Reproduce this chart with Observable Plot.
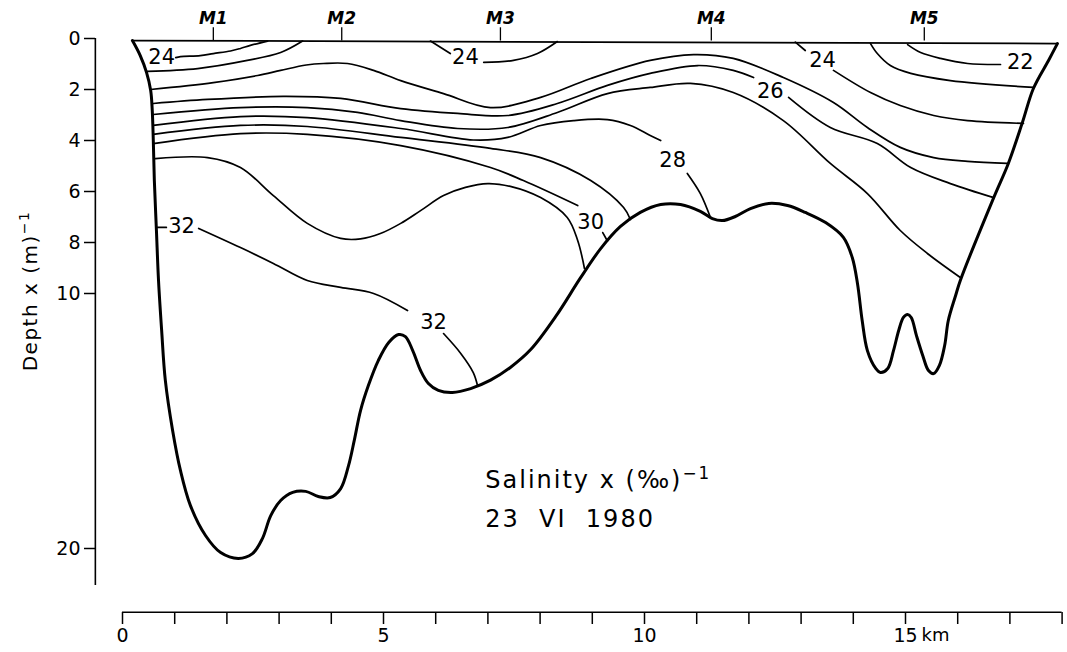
<!DOCTYPE html>
<html><head><meta charset="utf-8">
<script src="https://cdn.jsdelivr.net/npm/d3@7"></script>
<script src="https://cdn.jsdelivr.net/npm/@observablehq/plot@0.6"></script>
<style>
html,body{margin:0;padding:0;background:#fff;}
#chart{width:1067px;height:652px;}
</style></head>
<body><div id="chart"></div>
<script>
// ---- data: distance (km) and depth (m) ----
const depthTicks = [0, 2, 4, 6, 8, 10, 20];
const kmTicks = [0,1,2,3,4,5,6,7,8,9,10,11,12,13,14,15,16,17,18];
const kmTickLabels = {0: "0", 5: "5", 10: "10", 15: "15"};
const kmUnit = "km";
const stations = [
  {name: "M1", km: 1.74}, {name: "M2", km: 4.2}, {name: "M3", km: 7.24},
  {name: "M4", km: 11.28}, {name: "M5", km: 15.36}
];
const surface = [[0.19, 0.08], [17.91, 0.2]];
const bottom = [
  [0.19,0.08],[0.34,0.67],[0.46,1.33],[0.54,2.04],[0.57,2.82],[0.59,4.0],[0.61,5.57],[0.65,7.53],
  [0.69,9.49],[0.75,11.45],[0.82,13.4],[0.96,15.37],[1.11,16.94],[1.30,18.31],[1.59,19.49],
  [1.88,20.16],[2.22,20.39],[2.49,20.2],[2.68,19.61],[2.84,18.71],[3.03,18.12],[3.26,17.8],
  [3.51,17.76],[3.75,17.96],[3.98,18.0],[4.18,17.65],[4.33,16.75],[4.44,15.76],[4.56,14.59],
  [4.71,13.61],[4.90,12.63],[5.10,11.92],[5.29,11.61],[5.42,11.69],[5.56,12.24],[5.71,13.02],
  [5.86,13.53],[6.05,13.8],[6.32,13.88],[6.67,13.73],[7.05,13.4],[7.43,12.9],[7.82,12.2],
  [8.30,10.9],[8.77,9.4],[9.16,8.24],[9.54,7.37],[9.92,6.82],[10.31,6.51],[10.69,6.51],
  [11.07,6.78],[11.30,7.06],[11.49,7.14],[11.74,6.98],[12.03,6.67],[12.38,6.47],[12.74,6.55],
  [13.08,6.82],[13.47,7.22],[13.81,7.8],[13.98,8.59],[14.08,9.61],[14.17,11.06],[14.27,12.24],
  [14.43,12.94],[14.52,13.1],[14.66,12.94],[14.77,12.24],[14.87,11.45],[14.96,10.94],[15.04,10.82],
  [15.11,10.94],[15.21,11.65],[15.33,12.43],[15.44,13.02],[15.54,13.14],[15.65,12.82],[15.75,12.04],
  [15.82,11.06],[15.96,10.08],[16.05,9.49],[16.69,6.24],[16.97,4.9],[17.24,3.29],[17.45,1.96],
  [17.74,0.86],[17.91,0.2]
];
// isohaline segments (split where a label sits on the line)
const s24west = [[1.02,0.75],[1.11,0.71],[1.49,0.67],[1.74,0.59],[2.07,0.49],[2.26,0.39],[2.45,0.27],[2.78,0.1]];
const s25west = [[0.48,1.29],[1.44,1.18],[2.39,0.86],[3.03,0.55],[3.45,0.1]];
const s24midA = [[5.90,0.1],[6.28,0.59]];
const s24midB = [[6.92,0.94],[7.49,0.86],[7.95,0.59],[8.33,0.12]];
const s25 = [[0.54,2.0],[1.74,1.73],[2.59,1.45],[3.03,1.25],[3.52,1.04],[3.85,0.98],[4.31,0.98],[4.81,1.25],
  [5.33,1.65],[6.15,2.16],[7.05,2.71],[8.01,2.31],[8.97,1.57],[10.11,0.86],[10.94,0.63],[11.70,0.78],
  [12.66,1.53],[13.62,2.51],[14.27,3.49],[14.90,4.27],[15.54,4.67],[16.19,4.82],[16.95,4.9]];
const s26A = [[0.59,2.55],[1.63,2.39],[3.08,2.27],[4.18,2.35],[5.33,2.75],[6.42,2.94],[7.38,3.02],[8.33,2.55],
  [9.29,1.84],[10.11,1.37],[11.02,1.06],[11.70,1.25],[12.09,1.53]];
const s26B = [[12.76,2.31],[13.56,3.49],[14.46,4.12],[15.10,5.06],[15.86,5.69],[16.69,6.24]];
const s27 = [[0.59,2.98],[2.26,2.71],[3.54,2.71],[4.50,2.90],[5.33,3.22],[6.42,3.53],[7.38,3.49],[8.33,2.90],
  [9.29,2.16],[10.11,1.92],[10.88,1.76],[11.70,2.12],[12.66,3.22],[13.56,4.90],[14.27,6.08],[14.90,7.53],
  [15.42,8.43],[16.05,9.37]];
const s28A = [[0.59,3.41],[2.26,3.06],[3.54,3.10],[5.33,3.53],[6.72,3.98],[7.38,3.88],[8.01,3.41],[8.64,3.22],
  [9.29,3.18],[9.73,3.41],[10.11,3.80],[10.31,4.0]];
const s28B = [[10.82,5.29],[11.07,6.08],[11.26,7.0]];
const s29 = [[0.59,3.76],[2.26,3.41],[3.54,3.45],[5.33,3.88],[7.05,4.31],[8.01,4.67],[8.97,5.57],[9.60,6.63],[9.73,7.1]];
const s30A = [[0.59,4.12],[2.26,3.73],[3.54,3.76],[5.33,4.20],[7.05,5.06],[7.68,5.57],[8.72,6.55]];
const s30B = [[9.20,7.61],[9.29,7.94]];
const s31 = [[0.63,4.71],[1.63,4.67],[2.26,5.06],[2.89,6.16],[3.54,7.25],[4.18,7.84],[4.56,7.86],[4.94,7.65],
  [5.33,7.25],[5.71,6.75],[6.15,6.16],[6.57,5.84],[7.0,5.69],[7.43,5.8],[8.01,6.24],[8.52,7.02],[8.72,7.92],[8.85,9.02]];
const s32tick = [[0.67,7.41],[0.84,7.41]];
const s32A = [[1.46,7.45],[2.26,8.2],[2.89,8.82],[3.54,9.49],[4.18,9.76],[4.81,10.0],[5.46,10.67]];
const s32B = [[6.15,11.57],[6.48,12.35],[6.72,13.1],[6.80,13.6]];
const s24eastA = [[12.89,0.14],[13.08,0.47]];
const s24eastB = [[13.62,1.25],[14.33,2.12],[14.90,2.63],[15.54,3.02],[16.19,3.22],[17.26,3.33]];
const s23east = [[14.33,0.2],[14.46,0.59],[14.71,1.06],[15.10,1.37],[15.86,1.65],[17.45,1.92]];
const s22east = [[15.04,0.24],[15.29,0.55],[15.67,0.78],[16.19,0.98],[16.82,1.02]];
const isoLabels = [
  {text: "24", km: 0.75, depth: 0.75}, {text: "24", km: 6.57, depth: 0.75},
  {text: "24", km: 13.41, depth: 0.86}, {text: "22", km: 17.2, depth: 0.94},
  {text: "26", km: 12.41, depth: 2.08}, {text: "28", km: 10.54, depth: 4.78},
  {text: "30", km: 8.97, depth: 7.22}, {text: "32", km: 1.13, depth: 7.37},
  {text: "32", km: 5.96, depth: 11.14}
];
const yTitle = {text: "Depth x (m)", sup: "−1", km: -1.76, depth: 9.9};
const note1 = {text: "Salinity x (‰)", sup: "−1", km: 6.95, depth: 17.33};
const note2 = {text: "23  VI  1980", km: 6.95, depth: 18.86};

// ---- build tables ----
const segments = [s24west, s25west, s24midA, s24midB, s25, s26A, s26B, s27, s28A, s28B, s29, s30A, s30B,
  s31, s32tick, s32A, s32B, s24eastA, s24eastB, s23east, s22east];
const contourRows = segments.flatMap((seg, i) => seg.map(([km, depth]) => ({id: i, km, depth})));
const toRows = arr => arr.map(([km, depth]) => ({km, depth}));

const chart = Plot.plot({
  width: 1067, height: 652,
  marginTop: 38, marginBottom: 40, marginLeft: 95, marginRight: 5,
  style: {fontFamily: "'DejaVu Sans', sans-serif", background: "white", color: "black"},
  x: {domain: [0, 18], range: [122, 1061.6]},
  y: {domain: [0, 20], range: [38, 548]},
  marks: [
    Plot.axisY({ticks: depthTicks, tickSize: 11, tickPadding: 4, fontSize: 19, label: null, strokeWidth: 1.5}),
    Plot.ruleX([-0.52], {y1: 0, y2: 21.45, strokeWidth: 1.6}),
    Plot.axisX({ticks: kmTicks, tickSize: 12, tickPadding: 4, fontSize: 19, label: null, strokeWidth: 1.5,
      tickFormat: d => kmTickLabels[d] ?? ""}),
    Plot.ruleY([22.5], {x1: 0, x2: 18, strokeWidth: 1.6}),
    Plot.text([kmUnit], {x: 15, y: 23.13, text: d => d, dx: 16, textAnchor: "start", lineAnchor: "top", fontSize: 18}),
    Plot.line(toRows(surface), {x: "km", y: "depth", strokeWidth: 1.8}),
    Plot.ruleX(stations, {x: "km", y1: 0.1, y2: -0.42, strokeWidth: 1.3}),
    Plot.text(stations, {x: "km", y: -0.8, text: "name", fontSize: 17, fontWeight: "bold", fontStyle: "italic"}),
    Plot.line(contourRows, {x: "km", y: "depth", z: "id", curve: "catmull-rom", strokeWidth: 1.7}),
    Plot.line(toRows(bottom), {x: "km", y: "depth", curve: "catmull-rom", strokeWidth: 3}),
    Plot.text(isoLabels, {x: "km", y: "depth", text: "text", fontSize: 21}),
    Plot.text([yTitle], {x: "km", y: "depth", text: "text", rotate: -90, fontSize: 20}),
    Plot.text([note1, note2], {x: "km", y: "depth", text: "text", textAnchor: "start", fontSize: 24})
  ]
});
document.getElementById("chart").appendChild(chart);

// superscripts and letter spacing
const svg = d3.select(chart);
svg.selectAll("text").each(function() {
  const t = this.textContent;
  if (t === yTitle.text || t === note1.text) {
    const sel = d3.select(this);
    sel.style("letter-spacing", t === yTitle.text ? "1.5px" : "2px");
    sel.append("tspan").attr("dy", "-0.55em").attr("font-size", "0.7em").text(t === yTitle.text ? yTitle.sup : note1.sup);
  }
  if (t === note2.text) d3.select(this).style("letter-spacing", "2px");
});
</script>
</body></html>
